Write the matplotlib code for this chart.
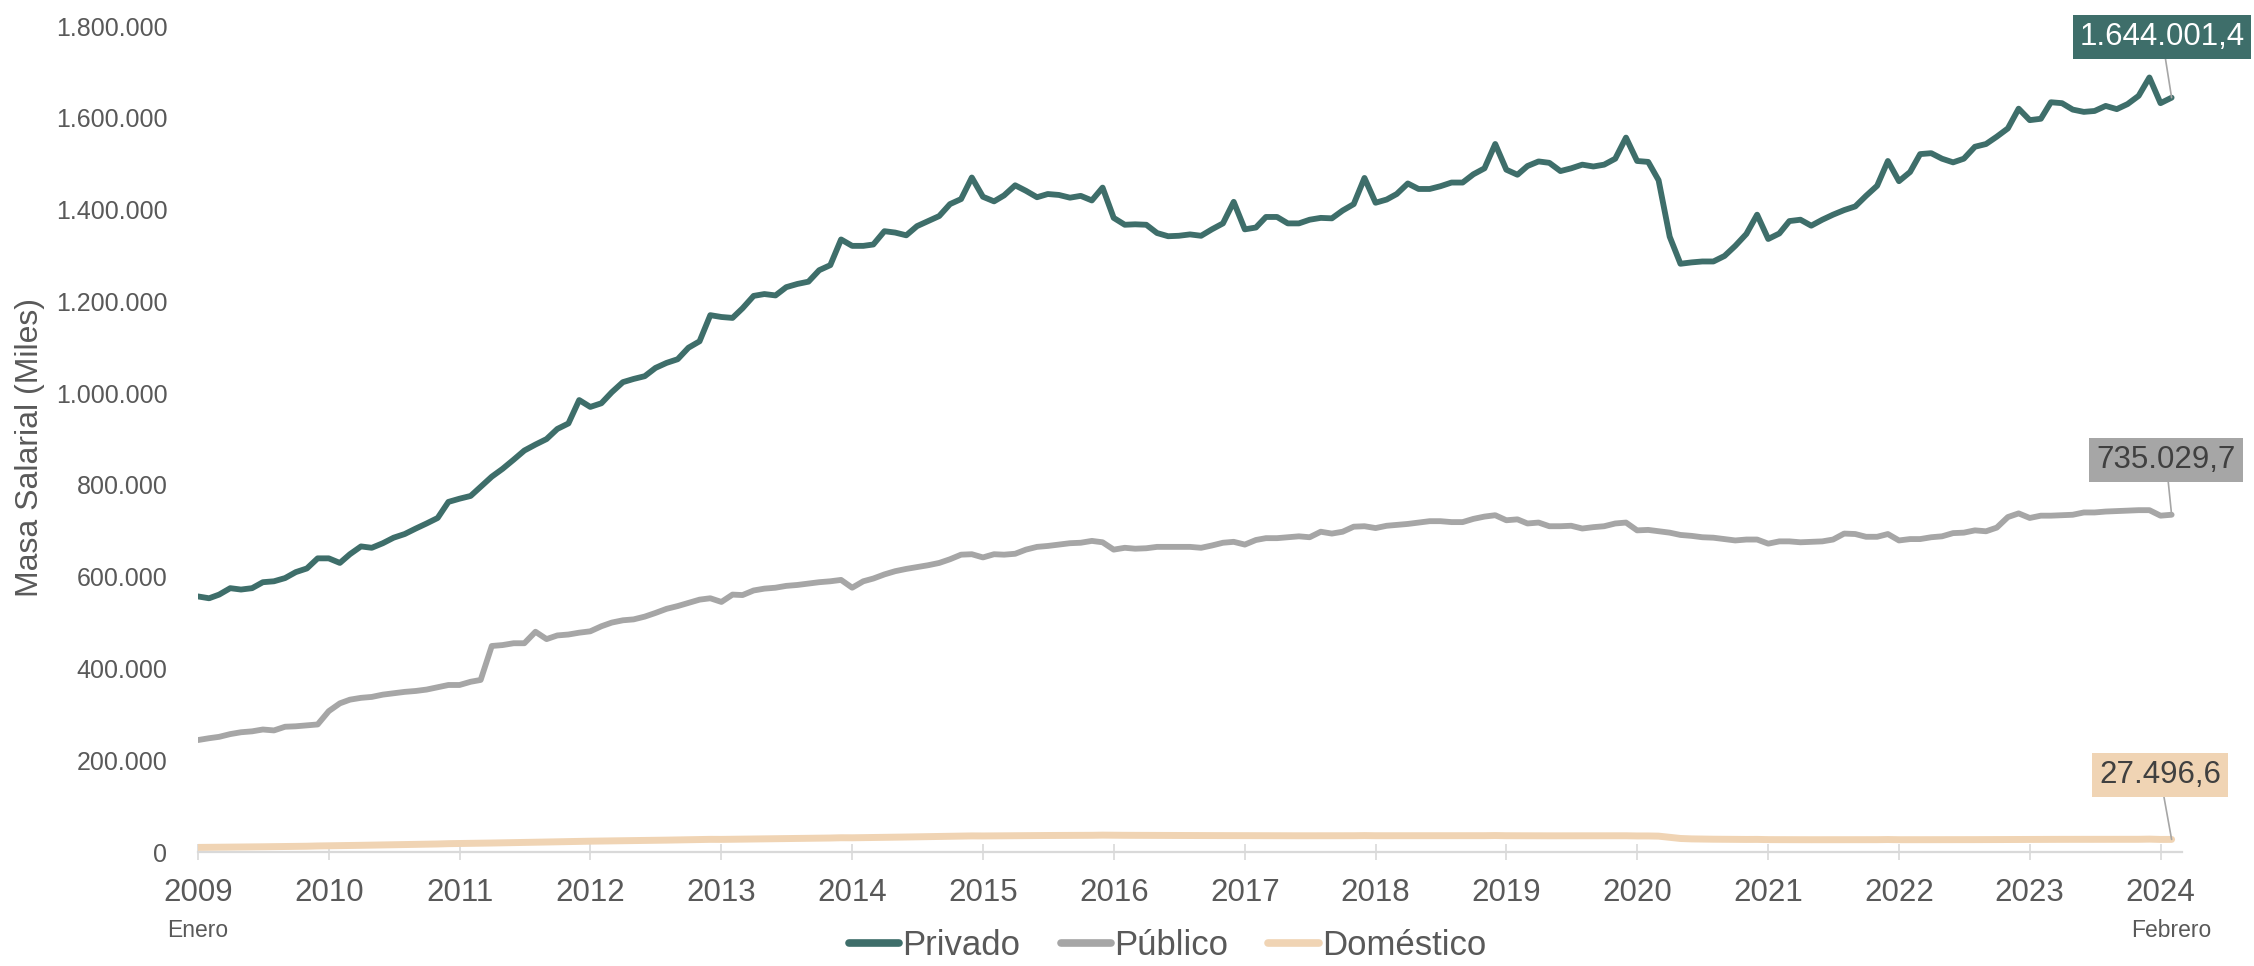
import numpy as np
import pandas as pd
import matplotlib
matplotlib.use('Agg')
import matplotlib.pyplot as plt
import matplotlib.dates as mdates
from matplotlib.ticker import FuncFormatter
from matplotlib.transforms import blended_transform_factory

plt.rcParams['font.family'] = ['Liberation Sans', 'DejaVu Sans']

# monthly series, Jan 2009 - Feb 2024, in thousands of "Miles"
start_month = '2009-01-01'
end_month = '2024-02-01'

privado_k = [
    557, 553, 561, 575, 572, 575, 588, 590, 597, 610, 618, 640,              # 2009
    640, 630, 649, 666, 663, 673, 685, 693, 705, 716, 728, 763,              # 2010
    770, 776, 796, 818, 835, 855, 875, 888, 900, 922, 934, 985,              # 2011
    970, 978, 1002, 1024, 1031, 1037, 1055, 1066, 1074, 1099, 1113, 1170,    # 2012
    1166, 1164, 1185, 1212, 1216, 1213, 1231, 1238, 1243, 1268, 1279, 1335,  # 2013
    1321, 1321, 1324, 1353, 1350, 1344, 1364, 1375, 1386, 1412, 1423, 1470,  # 2014
    1428, 1418, 1431, 1453, 1441, 1427, 1434, 1432, 1426, 1430, 1420, 1448,  # 2015
    1382, 1367, 1368, 1367, 1349, 1342, 1343, 1346, 1343, 1357, 1370, 1417,  # 2016
    1357, 1361, 1384, 1384, 1370, 1370, 1378, 1382, 1381, 1398, 1412, 1469,  # 2017
    1415, 1422, 1434, 1457, 1445, 1445, 1451, 1459, 1459, 1477, 1490, 1543,  # 2018
    1487, 1476, 1495, 1505, 1502, 1484, 1490, 1498, 1494, 1498, 1511, 1557,  # 2019
    1506, 1504, 1464, 1341, 1282, 1285, 1287, 1287, 1299, 1321, 1347, 1389,  # 2020
    1336, 1348, 1375, 1378, 1365, 1378, 1389, 1399, 1407, 1430, 1452, 1506,  # 2021
    1462, 1482, 1521, 1523, 1511, 1503, 1511, 1537, 1543, 1559, 1577, 1620,  # 2022
    1595, 1598, 1634, 1632, 1618, 1613, 1615, 1626, 1619, 1630, 1648, 1688,  # 2023
    1632, 1644.0014,                                                         # 2024
]

publico_k = [
    244, 248, 251, 257, 261, 263, 267, 265, 273, 274, 276, 278,
    307, 324, 332, 336, 338, 343, 346, 349, 351, 354, 359, 364,
    364, 371, 375, 449, 451, 455, 455, 480, 464, 472, 474, 478,
    481, 492, 500, 505, 507, 513, 521, 530, 536, 543, 550, 553,
    545, 561, 560, 570, 574, 576, 580, 582, 585, 588, 590, 593,
    576, 590, 596, 605, 612, 617, 621, 625, 630, 638, 648, 649,
    642, 649, 648, 650, 659, 665, 667, 670, 673, 674, 678, 675,
    659, 663, 661, 662, 665, 665, 665, 665, 663, 668, 674, 676,
    670, 680, 684, 684, 686, 688, 686, 698, 694, 698, 709, 710,
    706, 711, 713, 715, 718, 721, 721, 719, 719, 726, 731, 734,
    723, 725, 716, 718, 710, 710, 711, 705, 708, 710, 716, 718,
    701, 702, 699, 696, 691, 689, 686, 685, 682, 679, 681, 681,
    672, 677, 677, 675, 676, 677, 681, 694, 693, 687, 687, 693,
    679, 682, 682, 686, 688, 695, 696, 701, 699, 707, 730, 738,
    728, 733, 733, 734, 735, 740, 740, 742, 743, 744, 745, 745,
    733, 735.0297,
]

domestico_k = [
    10.0, 10.2, 10.4, 10.6, 10.9, 11.1, 11.4, 11.7, 12.0, 12.3, 12.6, 13.2,
    13.5, 13.8, 14.2, 14.6, 15.0, 15.4, 15.8, 16.2, 16.6, 17.0, 17.5, 18.2,
    18.5, 18.8, 19.2, 19.6, 20.0, 20.5, 20.9, 21.3, 21.8, 22.3, 22.8, 23.5,
    23.6, 23.9, 24.2, 24.5, 24.8, 25.1, 25.5, 25.9, 26.3, 26.7, 27.0, 27.6,
    27.5, 27.8, 28.1, 28.4, 28.7, 29.0, 29.3, 29.6, 29.9, 30.2, 30.5, 31.1,
    31.0, 31.3, 31.7, 32.0, 32.4, 32.7, 33.1, 33.4, 33.8, 34.1, 34.5, 35.1,
    35.0, 35.2, 35.4, 35.5, 35.7, 35.8, 36.0, 36.1, 36.2, 36.3, 36.4, 36.8,
    36.5, 36.4, 36.3, 36.2, 36.1, 36.0, 35.9, 35.9, 35.8, 35.8, 35.8, 36.0,
    35.6, 35.6, 35.5, 35.5, 35.5, 35.4, 35.4, 35.4, 35.4, 35.4, 35.5, 35.8,
    35.5, 35.5, 35.5, 35.6, 35.6, 35.6, 35.6, 35.5, 35.5, 35.5, 35.6, 35.9,
    35.5, 35.4, 35.4, 35.4, 35.3, 35.3, 35.2, 35.2, 35.2, 35.1, 35.2, 35.4,
    35.0, 35.0, 34.6, 32.0, 29.5, 28.6, 28.2, 27.9, 27.7, 27.5, 27.4, 27.5,
    27.0, 26.9, 26.9, 26.8, 26.8, 26.8, 26.8, 26.8, 26.8, 26.9, 26.9, 27.2,
    26.8, 26.8, 26.9, 26.9, 26.9, 27.0, 27.0, 27.0, 27.1, 27.1, 27.2, 27.6,
    27.6, 27.6, 27.6, 27.6, 27.6, 27.6, 27.6, 27.6, 27.6, 27.7, 27.7, 28.1,
    27.4, 27.4966,
]

series_names = ['Privado', 'Público', 'Doméstico']
series_colors = ['#3E6E6A', '#A6A6A6', '#F0D4B4']
series_widths = [4.2, 4.2, 5.0]
label_text_colors = ['#FFFFFF', '#404040', '#404040']
year_ticks = list(range(2009, 2025))

TEXT = '#595959'


def fmt_miles(v, decimals=0):
    s = f"{v:,.{decimals}f}"
    return s.replace(',', 'X').replace('.', ',').replace('X', '.')


months = pd.date_range(start_month, end_month, freq='MS')
data = [np.array(privado_k) * 1000, np.array(publico_k) * 1000, np.array(domestico_k) * 1000]
for d in data:
    assert len(d) == len(months)

fig = plt.figure(figsize=(22.54, 9.66), dpi=100)
ax = fig.add_axes([198 / 2254, 0.118, (2182 - 198) / 2254, 0.855])

lines = []
for name, vals, col, lw in zip(series_names, data, series_colors, series_widths):
    ln, = ax.plot(months, vals, color=col, lw=lw, label=name,
                  solid_joinstyle='round', solid_capstyle='round')
    lines.append(ln)

ax.set_ylim(0, 1800000)
ax.set_xlim(pd.Timestamp('2009-01-01'), pd.Timestamp('2024-03-01'))
ax.set_yticks(np.arange(0, 1800001, 200000))
ax.yaxis.set_major_formatter(FuncFormatter(lambda v, p: fmt_miles(v)))
ax.set_xticks([pd.Timestamp(f'{y}-01-01') for y in year_ticks])
ax.xaxis.set_major_formatter(mdates.DateFormatter('%Y'))

for s in ['top', 'right', 'left']:
    ax.spines[s].set_visible(False)
ax.spines['bottom'].set_color('#D9D9D9')
ax.spines['bottom'].set_linewidth(1.6)

ax.tick_params(axis='y', length=0, pad=22, labelsize=18, labelcolor=TEXT)
ax.tick_params(axis='x', direction='inout', length=12, width=1.2, color='#D9D9D9',
               pad=13, labelsize=22.5, labelcolor=TEXT)

ax.set_ylabel('Masa Salarial (Miles)', fontsize=23, color=TEXT)
ax.yaxis.set_label_coords(-0.077, 0.49)

# small month notes under the first and last year
trans = blended_transform_factory(ax.transData, ax.transAxes)
ax.text(months[0], -0.095, 'Enero', transform=trans, ha='center', va='center',
        fontsize=16.5, color=TEXT)
ax.text(months[-1], -0.095, 'Febrero', transform=trans, ha='center', va='center',
        fontsize=16.5, color=TEXT)

# end-of-series data labels
label_pos = [(2162, 929), (2166, 506), (2160, 191)]
for vals, col, tcol, pos in zip(data, series_colors, label_text_colors, label_pos):
    ax.annotate(fmt_miles(vals[-1], 1), xy=(months[-1], vals[-1]),
                xytext=pos, textcoords='figure pixels',
                ha='center', va='center', fontsize=22.5, color=tcol,
                bbox=dict(boxstyle='square,pad=0.22', fc=col, ec='none'),
                arrowprops=dict(arrowstyle='-', color='#A6A6A6', lw=1.2,
                                shrinkA=0, shrinkB=0),
                annotation_clip=False)

fig.legend(handles=lines, loc='center', bbox_to_anchor=(0.518, 0.021), ncol=3,
           frameon=False, fontsize=25, handlelength=1.45, handletextpad=0.1,
           columnspacing=1.15, labelcolor=TEXT, borderpad=0.2)
for h in fig.legends[0].legend_handles:
    h.set_linewidth(5.5)

fig.savefig('out.png', dpi=100)
